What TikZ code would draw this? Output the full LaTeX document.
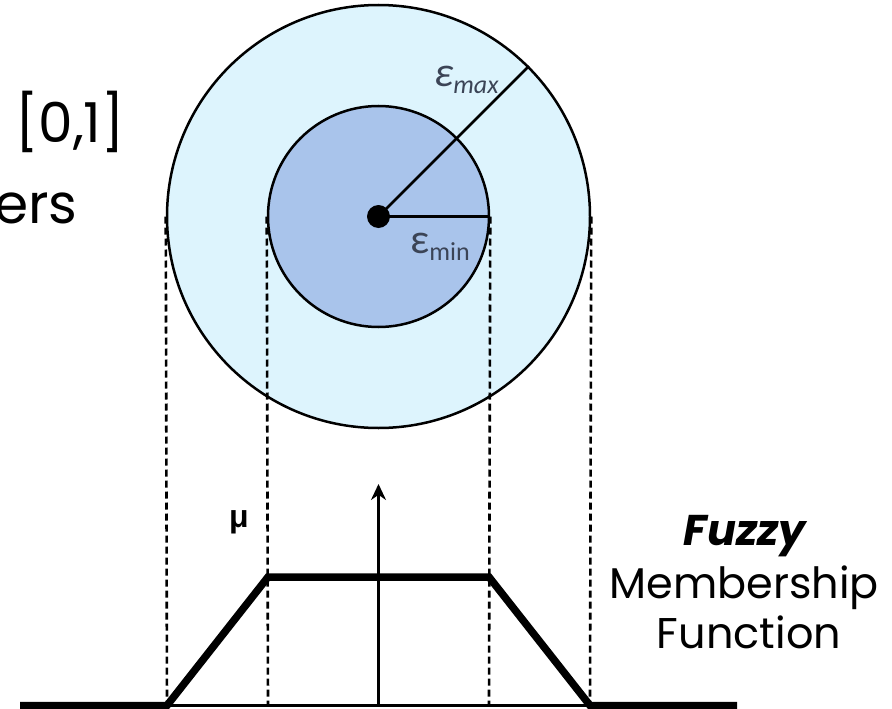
\documentclass[tikz,border=0pt]{standalone}
\usepackage{fontspec}
\setmainfont{Poppins}
\newfontfamily\carl{Carlito}
\newfontfamily\libsans{Liberation Sans}
\usetikzlibrary{arrows.meta}
\definecolor{outerfill}{HTML}{DDF4FD}
\definecolor{innerfill}{HTML}{A9C4EB}
\definecolor{epscol}{HTML}{3B4456}
\tikzset{
  ring/.style={circle, draw=black, line width=2.5pt, inner sep=0pt},
  guide/.style={dash pattern=on 7pt off 4pt, line width=2.6pt},
  radius/.style={line width=2.5pt},
  thin/.style={line width=2.5pt},
  memb/.style={line width=7.5pt},
  bigtxt/.style={font=\fontsize{55}{60}\selectfont, inner sep=0pt},
  sidetxt/.style={font=\fontsize{43}{50}\selectfont, inner sep=0pt, align=center},
  epslbl/.style={text=epscol, inner sep=0pt, anchor=base west}
}
\begin{document}
\begin{tikzpicture}[x=1pt,y=-1pt]
\useasboundingbox (0,0) rectangle (892,709);
% circles
\node[ring, fill=outerfill, minimum size=423pt] (outer) at (378.5,216.5) {};
\node[ring, fill=innerfill, minimum size=221pt] (inner) at (378.5,216.5) {};
% coordinates at the bottom
\coordinate (b1) at (167,705.5);
\coordinate (b2) at (268,705.5);
\coordinate (b3) at (489,705.5);
\coordinate (b4) at (590,705.5);
\coordinate (t2) at (268,577);
\coordinate (t3) at (489,577);
\coordinate (l0) at (20,705.5);
\coordinate (r0) at (737,705.5);
\coordinate (ctr) at (378.5,216.5);
\coordinate (ax0) at (378.5,705.5);
\coordinate (ax1) at (378.5,484);
% guides
\draw[guide] (outer.west) -- (b1);
\draw[guide] (inner.west) -- (b2);
\draw[guide] (inner.east) -- (b3);
\draw[guide] (outer.east) -- (b4);
% radii
\draw[radius] (ctr) -- (outer.45);
\draw[radius] (ctr) -- (inner.east);
\fill (ctr) circle (11.5pt);
% epsilon labels
\node[epslbl] (emax) at (434,86) {\carl\fontsize{42}{44}\selectfont\itshape ε\raisebox{-7pt}{\fontsize{26}{28}\selectfont max}};
\node[epslbl] (emin) at (410,253) {\carl\fontsize{42}{44}\selectfont ε\raisebox{-7pt}{\fontsize{26}{28}\selectfont min}};
% axis
\draw[thin] (b1) -- (b4);
\draw[thin, -{Stealth[length=16pt,width=15pt]}] (ax0) -- (ax1);
% membership function
\draw[memb] (l0) -- (b1) -- (t2) -- (t3) -- (b4) -- (r0);
% texts
\node[font=\libsans\bfseries\fontsize{32}{34}\selectfont, inner sep=0pt] (mu) at (239,522) {μ};
\node[bigtxt, anchor=base east] (range) at (125,142) {[0,1]};
\node[bigtxt, anchor=base west] (ers) at (-6,223) {ers};
\node[sidetxt, anchor=base] (fz) at (745,545) {\bfseries\itshape Fuzzy};
\node[sidetxt, anchor=base] (mb) at (744,598) {Membership};
\node[sidetxt, anchor=base] (fn) at (749,648) {Function};
\end{tikzpicture}
\end{document}
